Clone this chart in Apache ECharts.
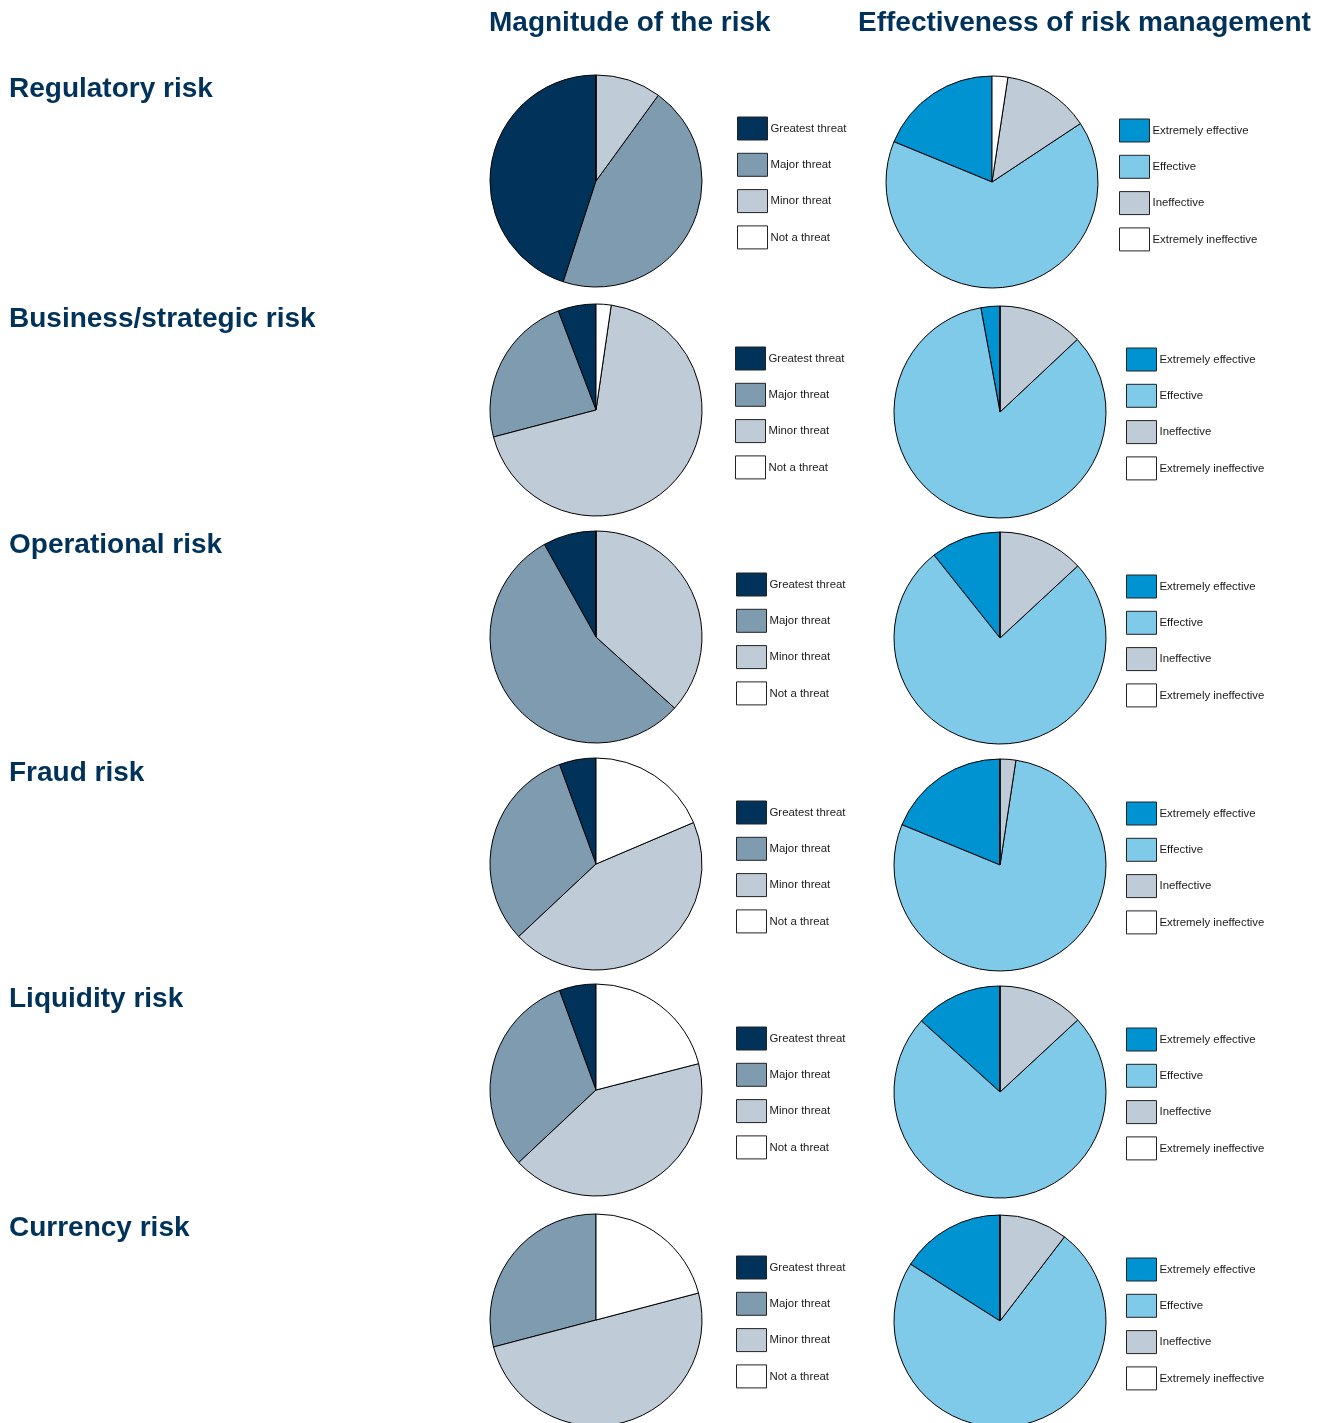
<!DOCTYPE html>
<html>
<head>
<meta charset="utf-8">
<title>Risk survey</title>
<script src="https://cdn.jsdelivr.net/npm/echarts@6/dist/echarts.min.js"></script>
<style>
  html, body { margin: 0; padding: 0; background: #fff; }
  #chart { width: 1324px; height: 1423px; }
</style>
</head>
<body>
<div id="chart"></div>
<script>
// Risk categories shown down the page
const riskNames = ['Regulatory risk', 'Business/strategic risk', 'Operational risk', 'Fraud risk', 'Liquidity risk', 'Currency risk'];

// Column headings
const columnTitles = ['Magnitude of the risk', 'Effectiveness of risk management'];

// Legend categories
const threatLevels = ['Greatest threat', 'Major threat', 'Minor threat', 'Not a threat'];
const effectivenessLevels = ['Extremely effective', 'Effective', 'Ineffective', 'Extremely ineffective'];

// Share of respondents (%) per threat level
const magnitudeRegulatory  = [45, 45, 10, 0];
const magnitudeBusiness    = [5.8, 23.3, 68.6, 2.3];
const magnitudeOperational = [8.1, 55.2, 36.7, 0];
const magnitudeFraud       = [5.6, 31.4, 44.4, 18.6];
const magnitudeLiquidity   = [5.6, 31.4, 42, 21];
const magnitudeCurrency    = [0, 29.1, 50, 20.9];

// Share of respondents (%) per effectiveness rating
const effectRegulatory  = [18.8, 65.5, 13.3, 2.4];
const effectBusiness    = [2.9, 84.1, 13, 0];
const effectOperational = [10.7, 76.2, 13.1, 0];
const effectFraud       = [18.8, 78.8, 2.4, 0];
const effectLiquidity   = [13.3, 73.6, 13.1, 0];
const effectCurrency    = [16, 73.6, 10.4, 0];

const magnitudeRows = [magnitudeRegulatory, magnitudeBusiness, magnitudeOperational, magnitudeFraud, magnitudeLiquidity, magnitudeCurrency];
const effectRows = [effectRegulatory, effectBusiness, effectOperational, effectFraud, effectLiquidity, effectCurrency];

const threatColors = ['#00325a', '#7f9bb0', '#bfcbd7', '#ffffff'];
const effectColors = ['#0093d2', '#7fc9e9', '#bfcbd7', '#ffffff'];

// Layout per row
const rowTitleY   = [87, 317, 543, 771, 997, 1226];
const leftPie     = [[596, 181], [596, 410], [596, 637], [596, 864], [596, 1090], [596, 1320]];
const rightPie    = [[992, 182], [1000, 412], [1000, 638], [1000, 865], [1000, 1092], [1000, 1321]];
const leftLegend  = [[737, 116.5], [735, 346.5], [736, 572.5], [736, 800.5], [736, 1026.5], [736, 1255.5]];
const rightLegend = [[1119, 118.5], [1126, 347.5], [1126, 574.5], [1126, 801.5], [1126, 1027.5], [1126, 1257.5]];
const pieRadius = 106;

const navy = '#00325a';
const titleFont = '"Liberation Sans", Arial, Helvetica, sans-serif';

const titles = [
  { text: columnTitles[0], left: 489, top: 9 },
  { text: columnTitles[1], left: 858, top: 9 }
];
riskNames.forEach((name, i) => titles.push({ text: name, left: 9, top: rowTitleY[i] - 12 }));
titles.forEach(t => {
  t.padding = 0;
  t.textStyle = { fontFamily: titleFont, fontSize: 28, fontWeight: 'bold', color: navy };
});

function pieSeries(values, names, colors, center) {
  return {
    type: 'pie',
    center: center,
    radius: pieRadius,
    startAngle: 90,
    clockwise: false,
    label: { show: false },
    labelLine: { show: false },
    emphasis: { disabled: true },
    silent: true,
    animation: false,
    itemStyle: { borderColor: '#000', borderWidth: 1 },
    data: values.map((v, k) => ({ name: names[k], value: v, itemStyle: { color: colors[k] } }))
  };
}

function legendBlock(names, pos) {
  return {
    orient: 'vertical',
    left: pos[0],
    top: pos[1],
    padding: 0,
    icon: 'rect',
    itemWidth: 30,
    itemHeight: 23,
    itemGap: 13.3 - 1,
    selectedMode: false,
    itemStyle: { borderColor: '#222', borderWidth: 1 },
    textStyle: { fontFamily: titleFont, fontSize: 11.4, color: '#1a1a1a', padding: [0, 0, 0, -2] },
    data: names
  };
}

const series = [];
const legends = [];
riskNames.forEach((_, i) => {
  series.push(pieSeries(magnitudeRows[i], threatLevels, threatColors, leftPie[i]));
  series.push(pieSeries(effectRows[i], effectivenessLevels, effectColors, rightPie[i]));
  legends.push(legendBlock(threatLevels, leftLegend[i]));
  legends.push(legendBlock(effectivenessLevels, rightLegend[i]));
});

const chart = echarts.init(document.getElementById('chart'), null, { renderer: 'canvas' });
chart.setOption({
  backgroundColor: '#ffffff',
  animation: false,
  title: titles,
  legend: legends,
  series: series
});
</script>
</body>
</html>
